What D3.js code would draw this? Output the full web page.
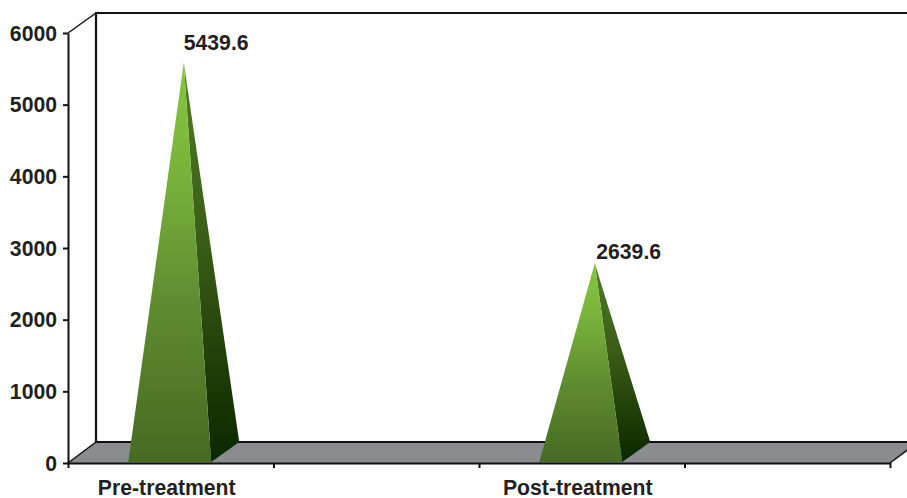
<!DOCTYPE html>
<html><head><meta charset="utf-8">
<script src="https://cdn.jsdelivr.net/npm/d3@7/dist/d3.min.js"></script>
<style>
html,body{margin:0;padding:0;background:#fff;overflow:hidden}
svg{display:block}
text{font-family:"Liberation Sans",Arial,sans-serif;font-weight:700;fill:#231f20;font-size:21.2px}
</style></head><body>
<svg id="c" width="907" height="498"></svg>
<script>
const categories = ["Pre-treatment", "Post-treatment"];
const slots = ["Pre-treatment", "gap1", "Post-treatment", "gap2"];
const values = [5439.6, 2639.6];
const valueLabels = ["5439.6", "2639.6"];
const yTicks = [0, 1000, 2000, 3000, 4000, 5000, 6000];

const W = 907, H = 498;
const x0 = 68, x1 = 890, yBase = 463, yTop = 33, depthX = 28, depthY = 21;
const ink = "#111", txt = "#231f20";

const svg = d3.select("#c");
const y = d3.scaleLinear().domain([0, 6000]).range([yBase, yTop]);
const x = d3.scaleBand().domain(slots).range([x0, x1]);
const edges = d3.scaleLinear().domain([0, slots.length]).range([x0, x1]);
const line = d3.line();

const defs = svg.append("defs");
function grad(id, stops) {
  const g = defs.append("linearGradient").attr("id", id).attr("x1", 0).attr("x2", 0).attr("y1", 0).attr("y2", 1);
  stops.forEach(([o, c]) => g.append("stop").attr("offset", o).attr("stop-color", c));
}
grad("front", [[0, "#86c63e"], [0.25, "#7ab53b"], [0.6, "#5f8c30"], [1, "#466a23"]]);
grad("side", [[0, "#4e7d25"], [0.45, "#3a5c17"], [0.8, "#1c3a05"], [1, "#0a2800"]]);

// floor
svg.append("path").attr("fill", "#8b8c8f")
  .attr("d", line([[x0, yBase], [x1, yBase], [x1 + depthX, yBase - depthY], [x0 + depthX, yBase - depthY]]) + "Z");

// walls
svg.append("path").attr("fill", "none").attr("stroke", ink).attr("stroke-width", 2.2)
  .attr("d", line([[x0 + depthX, yBase - depthY], [x0 + depthX, yTop - depthY + 1], [W + 2, yTop - depthY + 1]]));
svg.append("path").attr("fill", "none").attr("stroke", ink).attr("stroke-width", 2.2)
  .attr("d", line([[x0 + depthX, yBase - depthY], [W + 2, yBase - depthY]]));
svg.append("path").attr("fill", "none").attr("stroke", ink).attr("stroke-width", 1.5)
  .attr("d", line([[x0, yBase], [x0 + depthX, yBase - depthY]]));
svg.append("path").attr("fill", "none").attr("stroke", ink).attr("stroke-width", 1.5)
  .attr("d", line([[x0, yTop], [x0 + depthX, yTop - depthY + 1]]));
svg.append("path").attr("fill", "none").attr("stroke", ink).attr("stroke-width", 1.5)
  .attr("d", line([[x1, yBase], [x1 + depthX, yBase - depthY]]));

// pyramids
const bw = 83;
categories.forEach((c, i) => {
  const cx = x(c) + x.bandwidth() / 2 - 1;
  const l = cx - bw / 2, r = cx + bw / 2;
  const apex = [cx + depthX / 2, y(values[i]) - depthY / 2];
  svg.append("path").attr("fill", "url(#side)")
    .attr("d", line([[r, yBase - 1], [r + depthX, yBase - depthY], apex]) + "Z");
  svg.append("path").attr("fill", "url(#front)")
    .attr("d", line([[l, yBase - 1], [r, yBase - 1], apex]) + "Z");
  svg.append("text").attr("x", i === 0 ? apex[0] : apex[0] + 1.5)
    .attr("y", i === 0 ? 50 : apex[1] - 4).text(valueLabels[i]);
});

// y axis
const gy = svg.append("g").attr("transform", `translate(${x0},0)`)
  .call(d3.axisLeft(y).tickValues(yTicks).tickFormat(d3.format("d")).tickSize(5).tickSizeOuter(0));
gy.selectAll("path,line").attr("stroke", ink).attr("stroke-width", 2);
gy.selectAll("text").attr("fill", txt).attr("font-size", null).attr("x", -11).attr("dy", "0.34em");

// x axis ticks at band edges
const gx = svg.append("g").attr("transform", `translate(0,${yBase})`)
  .call(d3.axisBottom(edges).ticks(slots.length).tickFormat("").tickSize(5).tickSizeOuter(0));
gx.selectAll("path,line").attr("stroke", ink).attr("stroke-width", 2);

// x labels
svg.selectAll(".cat").data(categories).join("text").attr("class", "cat")
  .attr("text-anchor", "middle").attr("y", 495)
  .attr("x", d => x(d) + x.bandwidth() / 2 - 4).text(d => d);
</script></body></html>
